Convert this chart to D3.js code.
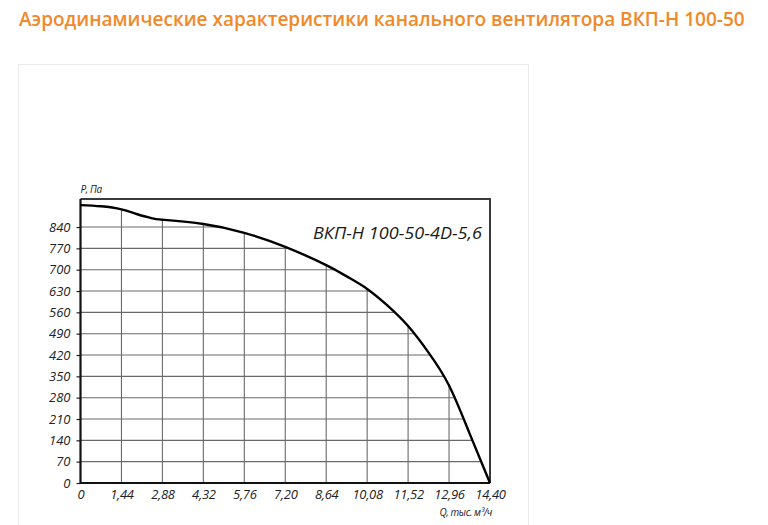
<!DOCTYPE html>
<html>
<head>
<meta charset="utf-8">
<script src="https://cdn.jsdelivr.net/npm/d3@7/dist/d3.min.js"></script>
<style>
  html, body { margin: 0; padding: 0; background: #ffffff; }
  svg { display: block; }
</style>
</head>
<body>
<svg id="chart" width="768" height="525"></svg>
<script>
// ---- data ----
const title = "Аэродинамические характеристики канального вентилятора ВКП-Н 100-50";
const seriesName = "ВКП-Н 100-50-4D-5,6";
const yTitle = "P, Па";
const xTitle = "Q, тыс. м³/ч";
const xTicks = [0, 1.44, 2.88, 4.32, 5.76, 7.20, 8.64, 10.08, 11.52, 12.96, 14.40];
const yTicks = [0, 70, 140, 210, 280, 350, 420, 490, 560, 630, 700, 770, 840];
const flowQ = [0, 0.72, 1.44, 2.0, 2.5, 2.88, 4.32, 5.76, 7.20, 8.64, 9.36, 10.08, 10.8, 11.52, 12.24, 12.96, 13.68, 14.40];
const pressureP = [912, 908, 898, 882, 869, 864, 850, 821, 775, 715, 678, 637, 582, 515, 428, 320, 163, 0];
const yMax = 932;

const data = flowQ.map((q, i) => ({ q, p: pressureP[i] }));

const svg = d3.select("#chart");

// panel
svg.append("rect")
  .attr("x", 18.5).attr("y", 64.5).attr("width", 510).attr("height", 500)
  .attr("fill", "#fff").attr("stroke", "#ebebeb").attr("stroke-width", 1);

// title
const t = svg.append("text")
  .attr("x", 19).attr("y", 26)
  .attr("fill", "#f0892a")
  .attr("font-family", "'Open Sans', sans-serif")
  .attr("font-weight", 600)
  .attr("font-size", 18)
  .text(title);
const tl = t.node().getComputedTextLength();
t.attr("font-size", 18 * 726 / tl);

// scales
const x = d3.scaleLinear().domain([0, 14.40]).range([80.5, 490]);
const y = d3.scaleLinear().domain([0, yMax]).range([483, 199]);

const curve = d3.curveNatural;

// clip: area under curve
const area = d3.area().x(d => x(d.q)).y0(y(0)).y1(d => y(d.p)).curve(curve);
svg.append("clipPath").attr("id", "under")
  .append("path").attr("d", area(data));

const grid = svg.append("g").attr("clip-path", "url(#under)");
grid.selectAll("line.v").data(xTicks.slice(1, -1)).join("line")
  .attr("x1", d => x(d)).attr("x2", d => x(d))
  .attr("y1", y(0)).attr("y2", y(yMax))
  .attr("stroke", "#6a6a6a").attr("stroke-width", 1.1);
grid.selectAll("line.h").data(yTicks.slice(1)).join("line")
  .attr("x1", x(0)).attr("x2", x(14.40))
  .attr("y1", d => y(d)).attr("y2", d => y(d))
  .attr("stroke", "#6a6a6a").attr("stroke-width", 1.1);

// frame top/right
svg.append("path")
  .attr("d", `M${x(0)},${y(yMax)}H${x(14.40)}V${y(0)}`)
  .attr("fill", "none").attr("stroke", "#3a3a3a").attr("stroke-width", 2);

// y axis
const yAxis = d3.axisLeft(y).tickValues(yTicks).tickSize(4).tickFormat(d3.format("d"));
const gy = svg.append("g").attr("transform", `translate(${x(0)},0)`).call(yAxis);
gy.select(".domain").remove();
gy.selectAll(".tick line").attr("stroke", "#222").attr("stroke-width", 1.2);
gy.selectAll(".tick text")
  .attr("x", -10)
  .attr("font-family", "'Open Sans', sans-serif")
  .attr("font-style", "italic")
  .attr("font-size", 13)
  .attr("fill", "#222");

// x axis
const xAxis = d3.axisBottom(x).tickValues(xTicks).tickSize(0)
  .tickFormat(d => d === 0 ? "0" : d3.format(".2f")(d).replace(".", ","));
const gx = svg.append("g").attr("transform", `translate(0,${y(0)})`).call(xAxis);
gx.select(".domain").remove();
gx.selectAll(".tick text")
  .attr("y", 7)
  .attr("font-family", "'Open Sans', sans-serif")
  .attr("font-style", "italic")
  .attr("font-size", 13)
  .attr("letter-spacing", -0.3)
  .attr("fill", "#222");

// axis lines left/bottom
svg.append("path")
  .attr("d", `M${x(0)},${y(yMax)}V${y(0)}H${x(14.40)}`)
  .attr("fill", "none").attr("stroke", "#111").attr("stroke-width", 2.2);

// curve
const line = d3.line().x(d => x(d.q)).y(d => y(d.p)).curve(curve);
svg.append("path").attr("d", line(data))
  .attr("fill", "none").attr("stroke", "#000").attr("stroke-width", 2.4);

// axis titles
svg.append("text").attr("x", x(0)).attr("y", y(yMax) - 6)
  .attr("font-family", "'Open Sans', sans-serif").attr("font-style", "italic")
  .attr("font-size", 10).attr("letter-spacing", -0.4).attr("fill", "#222")
  .text(yTitle);
svg.append("text").attr("x", x(14.40) + 2).attr("y", 516)
  .attr("text-anchor", "end")
  .attr("font-family", "'Open Sans', sans-serif").attr("font-style", "italic")
  .attr("font-size", 10).attr("letter-spacing", -0.4).attr("fill", "#222")
  .text(xTitle);

// series label
const sl = svg.append("text").attr("x", 313).attr("y", 239)
  .attr("font-family", "'Open Sans', sans-serif").attr("font-style", "italic")
  .attr("font-size", 17).attr("fill", "#1a1a1a")
  .text(seriesName);
sl.attr("textLength", 169).attr("lengthAdjust", "spacingAndGlyphs");
</script>
</body>
</html>
